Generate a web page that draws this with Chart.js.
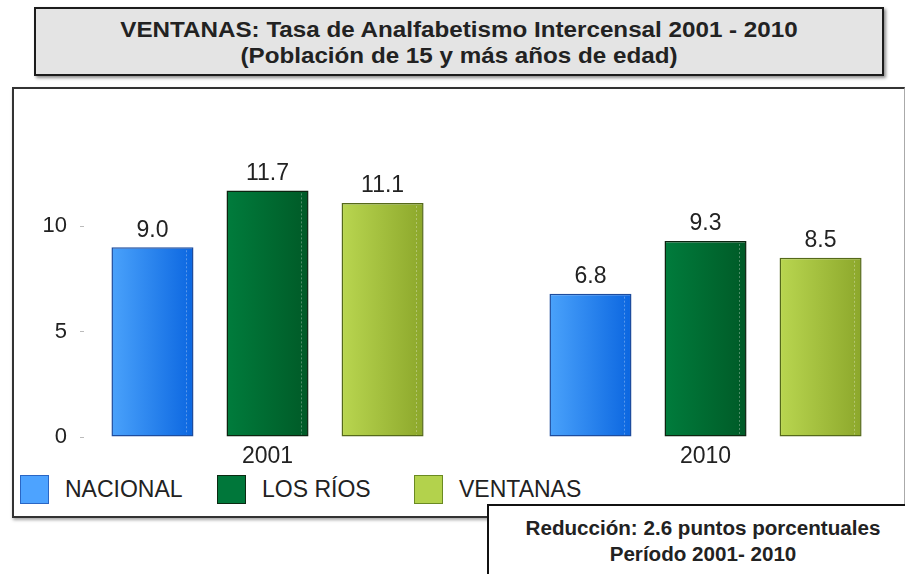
<!DOCTYPE html>
<html>
<head>
<meta charset="utf-8">
<script src="https://cdn.jsdelivr.net/npm/chart.js@4.4.1/dist/chart.umd.min.js"></script>
<style>
  body { margin: 0; width: 905px; height: 574px; overflow: hidden; background: #fff; position: relative;
         font-family: "Liberation Sans", Arial, sans-serif; color: #222; }
  #titleBox { position: absolute; left: 34px; top: 7px; width: 850px; height: 69px; box-sizing: border-box;
              border: 2px solid #1c1c1c; background: #e4e4e4; box-shadow: 2px 2px 3px rgba(0,0,0,0.45);
              text-align: center; font-weight: bold; font-size: 22px; line-height: 26px; padding-top: 8px; }
  #titleBox div { transform: scaleX(1.1); }
  #chartBox { position: absolute; left: 12px; top: 87px; width: 893px; height: 431px; box-sizing: border-box;
              border: 2px solid #333; border-right: 1px solid #aaa; box-shadow: 1px 2px 3px rgba(0,0,0,0.35); }
  #chart { position: absolute; left: 0; top: 88px; }
  #legend { position: absolute; left: 20px; top: 475px; display: flex; }
  .item { width: 197px; display: flex; align-items: center; font-size: 23px; }
  .swatch { width: 29px; height: 29px; box-sizing: border-box; border: 1.5px solid; margin-right: 16px; }
  #noteBox { position: absolute; left: 487px; top: 504px; width: 432px; height: 90px; box-sizing: border-box;
             border: 2px solid #111; background: #fff; text-align: center; font-weight: bold; font-size: 20px;
             line-height: 26px; padding-top: 9px; }
  #noteBox div { transform: scaleX(1.03); }
</style>
</head>
<body>
<div id="titleBox">
  <div>VENTANAS: Tasa de Analfabetismo Intercensal 2001 - 2010</div>
  <div>(Población de 15 y más años de edad)</div>
</div>
<div id="chartBox"></div>
<canvas id="chart" width="905" height="380"></canvas>
<div id="legend"></div>
<div id="noteBox">
  <div>Reducción: 2.6 puntos porcentuales</div>
  <div>Período 2001- 2010</div>
</div>
<script>
// datos
var years = ["2001", "2010"];
var seriesNames = ["NACIONAL", "LOS RÍOS", "VENTANAS"];
var nacional = [9.0, 6.8];
var losRios = [11.7, 9.3];
var ventanas = [11.1, 8.5];
var yTicks = [0, 5, 10];

// colores (claro, oscuro, borde, leyenda)
var barLight = ["#4aa2fb", "#007c3c", "#b9d650"];
var barDark = ["#0b66e0", "#005a27", "#8ca72b"];
var barBorder = ["#1d4c9e", "#0c2410", "#55691a"];
var legendFill = ["#4da3ff", "#00773a", "#b3d24c"];
var legendBorder = ["#2a66c4", "#0b2a12", "#6a8a22"];

var FONT = '"Liberation Sans", Arial, sans-serif';

function toPoints(values) {
	return years.map(function(y, i) {
		return { x : i, y : values[i] };
	});
}

var allSeries = [ nacional, losRios, ventanas ];
var datasets = allSeries.map(function(vals, i) {
	return {
		label : seriesNames[i],
		data : toPoints(vals),
		backgroundColor : barLight[i],
		borderColor : barBorder[i],
		borderWidth : 1.5,
		borderSkipped : false,
		categoryPercentage : 0.788,
		barPercentage : 0.713
	};
});

// degradado horizontal en cada barra
var gradientPlugin = {
	id : "gradientBars",
	beforeDatasetsDraw : function(chart) {
		var ctx = chart.ctx;
		chart.data.datasets.forEach(function(ds, di) {
			chart.getDatasetMeta(di).data.forEach(function(bar) {
				var x0 = bar.x - bar.width / 2, x1 = bar.x + bar.width / 2;
				var g = ctx.createLinearGradient(x0, 0, x1, 0);
				g.addColorStop(0, barLight[di]);
				g.addColorStop(1, barDark[di]);
				bar.options = Object.assign({}, bar.options, { backgroundColor : g });
			});
		});
	},
	afterDatasetsDraw : function(chart) {
		var ctx = chart.ctx;
		ctx.save();
		chart.data.datasets.forEach(function(ds, di) {
			chart.getDatasetMeta(di).data.forEach(function(bar, i) {
				// linea punteada de brillo
				var lx = Math.round(bar.x + bar.width * 0.41) + 0.5;
				ctx.setLineDash([ 2, 2 ]);
				ctx.strokeStyle = "rgba(255,255,255,0.3)";
				ctx.lineWidth = 1;
				ctx.beginPath();
				ctx.moveTo(lx, bar.y + 3);
				ctx.lineTo(lx, bar.base - 2);
				ctx.stroke();
				ctx.setLineDash([]);
				// etiqueta de valor
				ctx.fillStyle = "#222";
				ctx.font = "23px " + FONT;
				ctx.textAlign = "center";
				ctx.textBaseline = "middle";
				ctx.fillText(ds.data[i].y.toFixed(1), bar.x, bar.y - 17);
			});
		});
		ctx.restore();
	}
};

var chart = new Chart(document.getElementById("chart"), {
	type : "bar",
	data : { datasets : datasets },
	plugins : [ gradientPlugin ],
	options : {
		responsive : false,
		animation : false,
		layout : { padding : { top : 75, right : 10, left : 0, bottom : 0 } },
		plugins : { legend : { display : false }, tooltip : { enabled : false } },
		scales : {
			x : {
				type : "linear",
				offset : false,
				min : -0.419,
				max : 1.4326,
				grid : { display : false, drawTicks : false, offset : false },
				border : { display : false },
				afterFit : function(scale) { scale.height = 31; },
				ticks : {
					stepSize : 1,
					includeBounds : false,
					autoSkip : false,
					maxRotation : 0,
					padding : 6,
					color : "#222",
					font : { family : FONT, size : 23 },
					callback : function(v) { return years[v] !== undefined ? years[v] : ""; }
				}
			},
			y : {
				min : 0,
				max : 13,
				afterFit : function(scale) { scale.width = 84; },
				afterBuildTicks : function(scale) {
					scale.ticks = yTicks.map(function(v) { return { value : v }; });
				},
				grid : { drawOnChartArea : false, tickLength : 4, color : "#bbb" },
				border : { display : false },
				ticks : {
					padding : 13,
					color : "#222",
					font : { family : FONT, size : 22 }
				}
			}
		}
	}
});

// leyenda
var legend = document.getElementById("legend");
seriesNames.forEach(function(name, i) {
	var item = document.createElement("div");
	item.className = "item";
	var sw = document.createElement("div");
	sw.className = "swatch";
	sw.style.background = legendFill[i];
	sw.style.borderColor = legendBorder[i];
	item.appendChild(sw);
	item.appendChild(document.createTextNode(name));
	legend.appendChild(item);
});
</script>
</body>
</html>
